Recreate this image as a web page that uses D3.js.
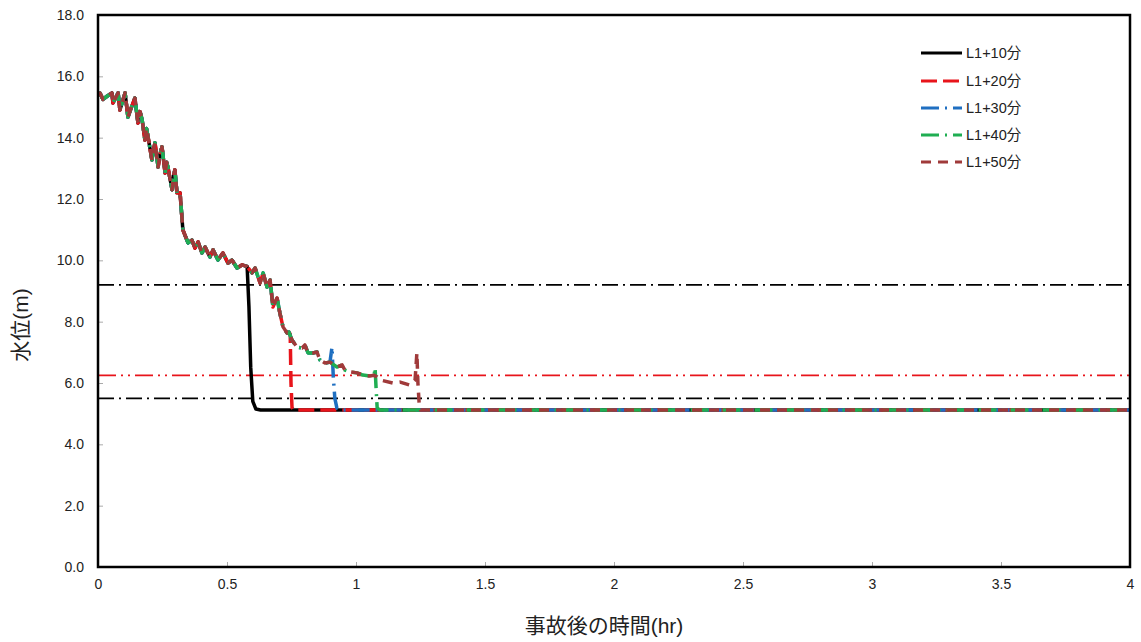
<!DOCTYPE html>
<html><head><meta charset="utf-8">
<script src="https://cdn.jsdelivr.net/npm/d3@7"></script>
<style>
html,body{margin:0;padding:0;background:#fff;}
svg{display:block;}
text{font-family:"Liberation Sans","Noto Sans CJK JP",sans-serif;}
</style></head>
<body>
<svg id="c" width="1141" height="642"></svg>
<script>
// ---- data ----
const xTicks = [0, 0.5, 1, 1.5, 2, 2.5, 3, 3.5, 4];
const xTickLabels = ["0", "0.5", "1", "1.5", "2", "2.5", "3", "3.5", "4"];
const yTicks = [0, 2, 4, 6, 8, 10, 12, 14, 16, 18];
const yTickLabels = ["0.0", "2.0", "4.0", "6.0", "8.0", "10.0", "12.0", "14.0", "16.0", "18.0"];

// common trunk (hr, m) shared by all cases before each one branches off
const trunkTime = [0, 0.008, 0.019, 0.035, 0.054, 0.058, 0.078, 0.085, 0.105, 0.116, 0.130, 0.143, 0.155, 0.163, 0.171, 0.182, 0.188, 0.194, 0.209, 0.215, 0.221, 0.233, 0.240, 0.248, 0.260, 0.266, 0.271, 0.287, 0.292, 0.298, 0.306, 0.318, 0.329, 0.349, 0.364, 0.376, 0.388, 0.403, 0.415, 0.434, 0.446, 0.465, 0.484, 0.504, 0.519, 0.539, 0.558, 0.578, 0.597, 0.609, 0.628, 0.640, 0.655, 0.667, 0.678, 0.694, 0.705, 0.717, 0.733, 0.740, 0.752, 0.771, 0.791, 0.802, 0.814, 0.833, 0.849, 0.860, 0.880, 0.899, 0.926, 0.946, 0.957, 0.977, 1.004, 1.027, 1.054, 1.070, 1.081, 1.093, 1.143, 1.171, 1.209, 1.229];
const trunkLevel = [15.40, 15.45, 15.25, 15.35, 15.46, 15.13, 15.46, 14.90, 15.46, 14.67, 15.00, 15.29, 14.48, 14.85, 14.58, 13.92, 14.30, 14.02, 13.27, 13.60, 13.83, 13.04, 13.45, 13.70, 12.85, 13.20, 13.04, 12.30, 12.70, 12.95, 12.20, 12.20, 10.99, 10.57, 10.66, 10.40, 10.60, 10.24, 10.43, 10.11, 10.34, 10.01, 10.24, 9.91, 10.01, 9.75, 9.85, 9.80, 9.59, 9.75, 9.26, 9.59, 9.13, 9.36, 8.48, 8.77, 8.28, 7.83, 7.63, 7.66, 7.40, 7.17, 7.14, 7.24, 6.98, 6.98, 7.01, 6.75, 6.65, 6.68, 6.52, 6.59, 6.42, 6.36, 6.33, 6.26, 6.23, 6.25, 6.20, 6.10, 6.00, 6.03, 5.93, 6.10];

const seriesNames = ["L1+10分", "L1+20分", "L1+30分", "L1+40分", "L1+50分"];
const branchTime = [0.578, 0.740, 0.899, 1.070, 1.229];
const tailTime = [
  [0.585, 0.592, 0.600, 0.612, 0.630, 4],
  [0.745, 0.748, 0.752, 0.760, 4],
  [0.907, 0.912, 0.918, 0.926, 0.940, 4],
  [1.074, 1.078, 1.082, 1.090, 4],
  [1.236, 1.240, 1.245, 1.250, 4]
];
const tailLevel = [
  [8.5, 6.5, 5.4, 5.15, 5.12, 5.12],
  [7.6, 6.0, 5.2, 5.12, 5.12],
  [7.17, 6.2, 5.5, 5.18, 5.12, 5.12],
  [6.49, 5.8, 5.2, 5.12, 5.12],
  [6.98, 6.0, 5.3, 5.12, 5.12]
];

const refLevels = [9.2, 6.25, 5.5];

// ---- styles ----
const colors = ["#000000", "#e8141b", "#1f6fc1", "#1fae52", "#a03a3a"];
const dashes = [null, "16 6", "18 6 2 6", "18 6 2 6", "10 7"];
const refColors = ["#000000", "#e8141b", "#000000"];
const refDashes = ["16 5 2 5", "18 5 2 5 2 5", "16 5 2 5"];

// ---- layout ----
const svg = d3.select("#c");
const L = 98, R = 1130, T = 15, B = 567;
const x = d3.scaleLinear().domain([0, 4]).range([L, R]);
const y = d3.scaleLinear().domain([0, 18]).range([B, T]);

// tick marks (inside)
const gx = svg.append("g").attr("transform", `translate(0,${B})`)
  .call(d3.axisBottom(x).tickValues(xTicks).tickSizeInner(-5).tickSizeOuter(0).tickPadding(12)
    .tickFormat((d, i) => xTickLabels[i]));
gx.select(".domain").remove();
gx.selectAll("line").attr("stroke", "#aaa");
gx.selectAll("text").attr("font-size", 14).attr("fill", "#222");

const gy = svg.append("g").attr("transform", `translate(${L},0)`)
  .call(d3.axisLeft(y).tickValues(yTicks).tickSizeInner(-5).tickSizeOuter(0).tickPadding(14)
    .tickFormat((d, i) => yTickLabels[i]));
gy.select(".domain").remove();
gy.selectAll("line").attr("stroke", "#aaa");
gy.selectAll("text").attr("font-size", 14).attr("fill", "#222");

// reference lines
refLevels.forEach((v, i) => {
  svg.append("line").attr("x1", L).attr("x2", R).attr("y1", y(v)).attr("y2", y(v))
    .attr("stroke", refColors[i]).attr("stroke-width", 1.6).attr("stroke-dasharray", refDashes[i]);
});

// series
const line = d3.line().x(d => x(d[0])).y(d => y(d[1]));
seriesNames.forEach((name, i) => {
  const pts = [];
  trunkTime.forEach((t, j) => { if (t <= branchTime[i]) pts.push([t, trunkLevel[j]]); });
  tailTime[i].forEach((t, j) => pts.push([t, tailLevel[i][j]]));
  svg.append("path").datum(pts).attr("d", line)
    .attr("fill", "none").attr("stroke", colors[i]).attr("stroke-width", 3.5)
    .attr("stroke-linejoin", "round")
    .attr("stroke-dasharray", dashes[i]);
});

// frame
svg.append("rect").attr("x", L).attr("y", T).attr("width", R - L).attr("height", B - T)
  .attr("fill", "none").attr("stroke", "#000").attr("stroke-width", 2.5);

// legend
const legRows = [53, 81, 108, 135, 162];
seriesNames.forEach((name, i) => {
  svg.append("line").attr("x1", 921).attr("x2", 962).attr("y1", legRows[i]).attr("y2", legRows[i])
    .attr("stroke", colors[i]).attr("stroke-width", 3).attr("stroke-dasharray", dashes[i]);
  svg.append("text").attr("x", 966).attr("y", legRows[i] + 5).attr("font-size", 14.5).attr("fill", "#222")
    .text(name);
});

// axis titles
svg.append("text").attr("x", 604).attr("y", 633).attr("text-anchor", "middle")
  .attr("font-size", 21).attr("fill", "#222").text("事故後の時間(hr)");
svg.append("text").attr("transform", "translate(28,325) rotate(-90)").attr("text-anchor", "middle")
  .attr("font-size", 21).attr("fill", "#222").text("水位(m)");
</script>
</body></html>
